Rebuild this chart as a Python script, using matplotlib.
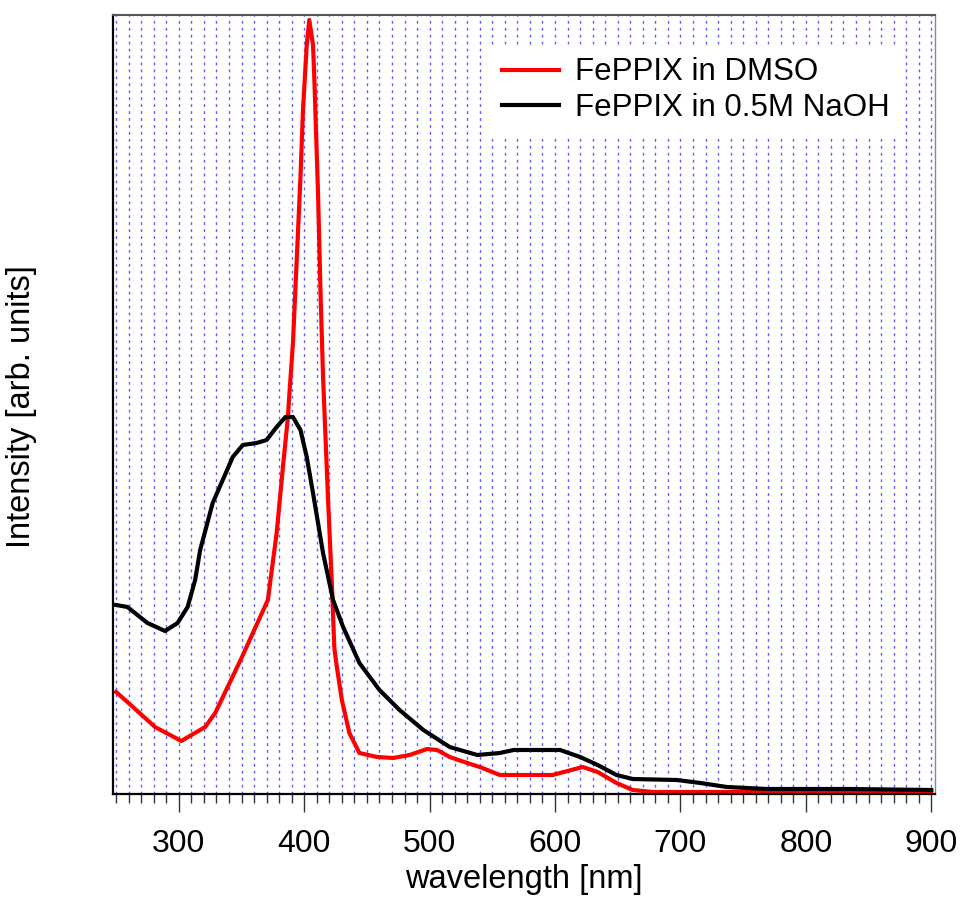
import numpy as np
import matplotlib
matplotlib.use('Agg')
import matplotlib.pyplot as plt
from matplotlib.ticker import MultipleLocator

plt.rcParams['font.family'] = ['Liberation Sans', 'DejaVu Sans']

# FePPIX in DMSO (wavelength nm, intensity arb. units)
wl_dmso = [250, 259, 281, 302, 321, 329, 350, 371, 378, 383, 387, 388, 391, 394,
           397, 399, 402, 404, 407, 408, 411, 413, 415, 419, 422, 424, 426, 430,
           436, 444, 458, 471, 484, 498, 506, 516, 530, 540, 556, 598, 622, 634,
           649, 662, 678, 900]
int_dmso = [102, 92, 67, 53, 67, 81, 136, 194, 261, 327, 377, 397, 451, 534,
            617, 684, 749, 774, 749, 717, 601, 501, 417, 294, 211, 146, 127, 94,
            61, 41, 37, 36, 39, 45, 44, 37, 31, 27, 19, 19, 27, 22,
            11, 4, 2, 2]

# FePPIX in 0.5M NaOH
wl_naoh = [250, 259, 275, 289, 299, 307, 313, 317, 327, 335, 343, 351, 362, 370,
           378, 385, 391, 397, 402, 407, 415, 423, 431, 444, 460, 476, 495, 516,
           538, 556, 567, 604, 620, 634, 649, 662, 697, 716, 737, 769, 835, 900]
int_naoh = [189, 187, 171, 163, 171, 187, 214, 244, 291, 314, 337, 349, 351, 354,
            367, 377, 377, 364, 337, 301, 241, 194, 167, 131, 104, 84, 64, 47,
            39, 41, 44, 44, 37, 29, 19, 15, 14, 11, 7, 5, 5, 4]

fig = plt.figure(figsize=(9.6, 8.97), dpi=100)
ax = fig.add_axes([113 / 960, 1 - 794 / 897, (935 - 113) / 960, (794 - 15) / 897])

ax.plot(wl_dmso, int_dmso, color='#ff0000', lw=3, label='FePPIX in DMSO')
ax.plot(wl_naoh, int_naoh, color='black', lw=3, label='FePPIX in 0.5M NaOH')

ax.set_xlim(247.5, 903)
ax.set_ylim(0, 779)

ax.xaxis.set_major_locator(MultipleLocator(100))
ax.xaxis.set_minor_locator(MultipleLocator(10))
ax.set_yticks([])
ax.tick_params(axis='x', which='major', direction='out', length=13, width=1,
               color='#333333', labelsize=23, pad=12)
ax.tick_params(axis='x', which='minor', direction='out', length=6.5, width=1,
               color='#333333')
ax.grid(True, which='both', axis='x', color='#4b4bff', linestyle=(0, (2, 3)),
        lw=1, alpha=0.9)
ax.set_axisbelow(True)

ax.spines['left'].set_linewidth(1.6)
ax.spines['bottom'].set_linewidth(1.6)
ax.spines['top'].set_color('#555555')
ax.spines['top'].set_linewidth(1.5)
ax.spines['right'].set_color('#888888')
ax.spines['right'].set_linewidth(1)

ax.set_xlabel('wavelength [nm]', fontsize=23.5, labelpad=4)
ax.set_ylabel('Intensity [arb. units]', fontsize=23.5)
ax.yaxis.set_label_coords(-0.0925, 0.497)

leg = ax.legend(loc='upper left', bbox_to_anchor=(0.4586, 0.9615), fontsize=22.5,
                frameon=True, fancybox=False, handlelength=1.8, borderpad=0.4,
                handletextpad=0.52, labelspacing=0.17, borderaxespad=0)
leg.get_frame().set_facecolor('white')
leg.get_frame().set_edgecolor('white')
leg.get_frame().set_alpha(1)

plt.savefig('out.png', dpi=100)
